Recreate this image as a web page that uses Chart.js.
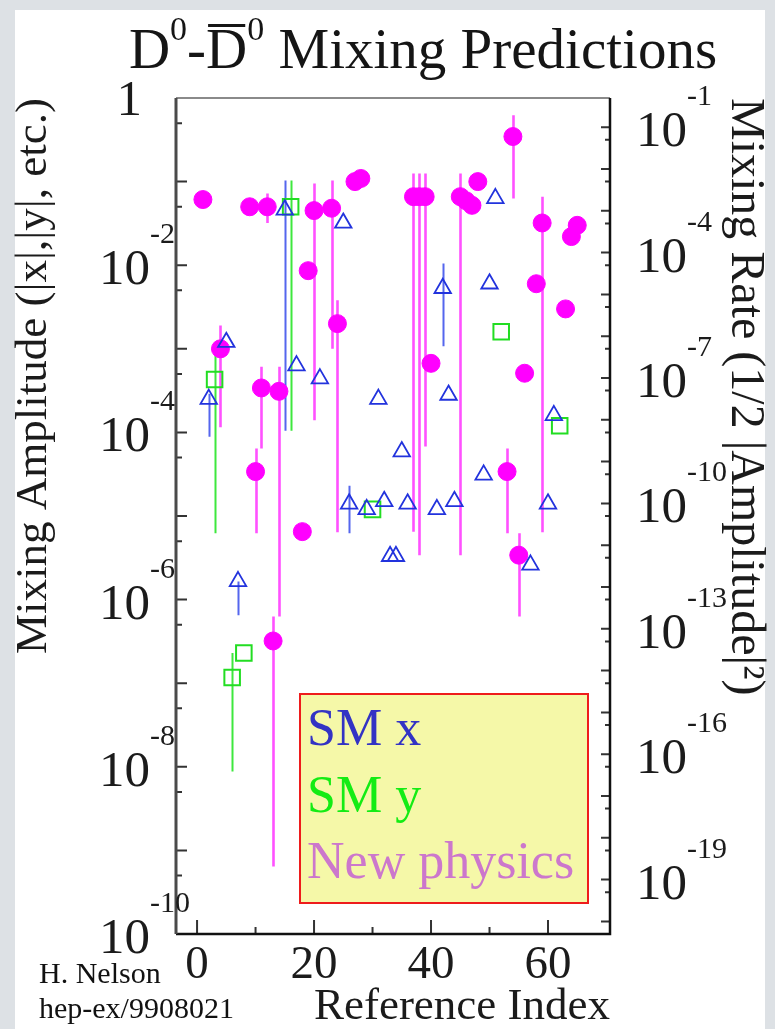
<!DOCTYPE html>
<html>
<head>
<meta charset="utf-8">
<script src="https://cdn.jsdelivr.net/npm/chart.js@4.4.1/dist/chart.umd.min.js"></script>
<style>
  html, body { margin: 0; padding: 0; }
  body { width: 775px; height: 1029px; background: #dde1e5; overflow: hidden; position: relative; }
  #sheet { position: absolute; left: 15px; top: 10px; width: 750px; height: 1019px; background: #fff; }
  #wrap { position: absolute; left: 0; top: 0; width: 775px; height: 1029px; }
</style>
</head>
<body>
<div id="sheet"></div>
<div id="wrap"><canvas id="mixChart" width="775" height="1029"></canvas></div>
<script>
const SERIF = "'Liberation Serif', 'Times New Roman', serif";

// axis ticks / labels
const xTickValues = [0, 20, 40, 60];
const xMinorTicks = [10, 30, 50];
const leftExponents = ['0', '-2', '-4', '-6', '-8', '-10'];
const rightExponents = ['-1', '-4', '-7', '-10', '-13', '-16', '-19'];
const legendLabels = ['SM x', 'SM y', 'New physics'];

// New physics predictions (filled circles)
const npIndex = [1, 4, 9, 10, 11, 12, 13, 14, 18, 19, 20, 23, 24, 27, 28, 37, 38, 39, 40, 45, 46, 47, 48, 53, 54, 55, 56, 58, 59, 63, 64, 65];
const npValue = [6.1e-2, 1.0e-3, 5.0e-2, 3.4e-5, 3.4e-4, 5.0e-2, 3.2e-7, 3.1e-4, 6.5e-6, 8.6e-3, 4.5e-2, 4.8e-2, 2.0e-3, 1.0e-1, 1.09e-1, 6.6e-2, 6.6e-2, 6.6e-2, 6.7e-4, 6.6e-2, 5.9e-2, 5.2e-2, 1.0e-1, 3.4e-5, 3.46e-1, 3.4e-6, 5.1e-4, 6.0e-3, 3.2e-2, 3.0e-3, 2.2e-2, 3.0e-2];
const npLow = [null, 1.15e-4, null, 6.2e-6, 6.4e-5, 3.2e-2, 6.4e-10, 6.3e-7, null, null, 1.4e-4, 1.0e-3, 6.4e-6, null, null, 6.5e-6, 3.4e-6, 6.8e-5, null, 3.4e-6, null, null, null, 6.2e-6, 6.3e-2, 6.3e-7, null, null, 6.4e-6, null, null, null];
const npHigh = [null, 1.9e-3, null, 6.4e-5, 6.1e-4, 7.2e-2, 6.3e-7, 6.1e-4, null, null, 9.5e-2, 1.03e-1, 3.8e-3, null, null, 1.25e-1, 1.25e-1, 1.25e-1, null, 1.25e-1, null, null, null, 6.4e-5, 6.2e-1, 6.2e-6, null, null, 6.6e-2, null, null, null];

// Standard model x (open triangles)
const smxIndex = [2, 5, 7, 15, 17, 21, 25, 26, 29, 31, 32, 33, 34, 35, 36, 41, 42, 43, 44, 49, 50, 51, 57, 60, 61];
const smxValue = [2.5e-4, 1.2e-3, 1.65e-6, 4.6e-2, 6.3e-4, 4.4e-4, 3.2e-2, 1.4e-5, 1.2e-5, 2.5e-4, 1.5e-5, 3.3e-6, 3.3e-6, 5.9e-5, 1.4e-5, 1.2e-5, 5.3e-3, 2.8e-4, 1.5e-5, 3.1e-5, 6.0e-3, 6.3e-2, 2.6e-6, 1.4e-5, 1.6e-4];
const smxLow = [8.9e-5, null, 6.5e-7, 1.05e-4, null, null, null, 6.2e-6, null, null, null, null, null, null, null, null, 1.07e-3, null, null, null, null, null, null, null, null];
const smxHigh = [2.9e-4, null, 1.65e-6, 1.03e-1, null, null, null, 2.3e-5, null, null, null, null, null, null, null, null, 1.05e-2, null, null, null, null, null, null, null, null];

// Standard model y (open squares)
const smyIndex = [3, 6, 8, 16, 30, 52, 62];
const smyValue = [4.3e-4, 1.17e-7, 2.3e-7, 5.0e-2, 1.2e-5, 1.6e-3, 1.2e-4];
const smyLow = [6.2e-6, 8.8e-9, null, 1.05e-4, null, null, null];
const smyHigh = [8.3e-4, 2.3e-7, null, 1.03e-1, null, null, null];

const toPoints = (xs, ys) => xs.map((v, i) => ({ x: v, y: ys[i] }));

function errorBars(ctx, xs, ys, idx, lo, hi, color, width) {
    ctx.strokeStyle = color;
    ctx.lineWidth = width;
    ctx.beginPath();
    idx.forEach((v, i) => {
        if (lo[i] == null) return;
        const px = Math.round(xs.getPixelForValue(v)) + 0.5;
        ctx.moveTo(px, ys.getPixelForValue(hi[i]));
        ctx.lineTo(px, ys.getPixelForValue(lo[i]));
    });
    ctx.stroke();
}

function powerLabel(ctx, tx, ty, exp, side) {
    ctx.fillStyle = '#1b1b1b';
    ctx.textBaseline = 'alphabetic';
    ctx.font = `51px ${SERIF}`;
    const bw = ctx.measureText('10').width;
    const x0 = side === 'left' ? tx - bw : tx;
    ctx.textAlign = 'left';
    ctx.fillText('10', x0, ty + 19);
    ctx.font = `30px ${SERIF}`;
    ctx.fillText(exp, x0 + bw, ty - 22);
}

function drawTitle(ctx) {
    const big = `57px ${SERIF}`, small = `34px ${SERIF}`;
    const parts = [
        { t: 'D', f: big, dy: 0 },
        { t: '0', f: small, dy: -28 },
        { t: '-', f: big, dy: 0 },
        { t: 'D', f: big, dy: 0, bar: true },
        { t: '0', f: small, dy: -28 },
        { t: ' Mixing Predictions', f: big, dy: 0 }
    ];
    let total = 0;
    parts.forEach(p => { ctx.font = p.f; p.w = ctx.measureText(p.t).width; total += p.w; });
    let x = 423 - total / 2;
    const base = 68;
    ctx.fillStyle = '#151515';
    ctx.textAlign = 'left';
    ctx.textBaseline = 'alphabetic';
    parts.forEach(p => {
        ctx.font = p.f;
        ctx.fillText(p.t, x, base + p.dy);
        if (p.bar) ctx.fillRect(x + 2, 24, p.w - 4, 3);
        x += p.w;
    });
}

const paperPlugin = {
    id: 'paper',
    beforeDatasetsDraw(chart) {
        const { ctx, chartArea: a, scales: { x, y } } = chart;
        ctx.save();
        ctx.beginPath();
        ctx.rect(a.left, a.top, a.right - a.left, a.bottom - a.top);
        ctx.clip();
        errorBars(ctx, x, y, npIndex, npLow, npHigh, 'rgba(255,50,255,0.85)', 2.6);
        errorBars(ctx, x, y, smyIndex, smyLow, smyHigh, '#3ee83e', 2);
        errorBars(ctx, x, y, smxIndex, smxLow, smxHigh, '#5566ee', 2);
        ctx.restore();
    },
    afterDatasetsDraw(chart) {
        const { ctx, chartArea: a, scales: { x, y, y2 } } = chart;
        ctx.save();
        // tick marks, all pointing inward
        ctx.strokeStyle = '#333';
        ctx.lineWidth = 2;
        ctx.beginPath();
        for (let e = 0; e >= -10; e--) {
            const py = y.getPixelForValue(10 ** e);
            ctx.moveTo(a.left, py); ctx.lineTo(a.left + 11, py);
            if (e > -10) {
                const pm = y.getPixelForValue(5 * 10 ** (e - 1));
                ctx.moveTo(a.left, pm); ctx.lineTo(a.left + 6, pm);
            }
        }
        for (let n = -1; n >= -20; n--) {
            const py = y2.getPixelForValue(10 ** n);
            ctx.moveTo(a.right, py); ctx.lineTo(a.right - 9, py);
            const pm = y2.getPixelForValue(5 * 10 ** (n - 1));
            ctx.moveTo(a.right, pm); ctx.lineTo(a.right - 5, pm);
        }
        xTickValues.forEach(v => {
            const px = x.getPixelForValue(v);
            ctx.moveTo(px, a.bottom); ctx.lineTo(px, a.bottom - 14);
        });
        xMinorTicks.forEach(v => {
            const px = x.getPixelForValue(v);
            ctx.moveTo(px, a.bottom); ctx.lineTo(px, a.bottom - 7);
        });
        ctx.stroke();

        // frame
        ctx.lineWidth = 2;
        ctx.strokeStyle = '#8a8a8a';
        ctx.beginPath(); ctx.moveTo(a.left, a.top); ctx.lineTo(a.right, a.top); ctx.stroke();
        ctx.strokeStyle = '#111';
        ctx.lineWidth = 2.5;
        ctx.beginPath(); ctx.moveTo(a.right, a.top); ctx.lineTo(a.right, a.bottom); ctx.lineTo(a.left, a.bottom); ctx.stroke();
        ctx.strokeStyle = '#4a4a4a';
        ctx.lineWidth = 3;
        ctx.beginPath(); ctx.moveTo(a.left, a.top); ctx.lineTo(a.left, a.bottom); ctx.stroke();
        ctx.restore();
    },
    afterDraw(chart) {
        const { ctx, scales: { y, y2 } } = chart;
        ctx.save();
        leftExponents.forEach(e => {
            const py = y.getPixelForValue(10 ** Number(e));
            if (e === '0') {
                ctx.font = `51px ${SERIF}`;
                ctx.fillStyle = '#1b1b1b';
                ctx.textAlign = 'right';
                ctx.textBaseline = 'alphabetic';
                ctx.fillText('1', 142, py + 17);
            } else {
                powerLabel(ctx, 150, py, e, 'left');
            }
        });
        rightExponents.forEach(e => {
            powerLabel(ctx, 636, y2.getPixelForValue(10 ** Number(e)), e, 'right');
        });

        drawTitle(ctx);

        // legend box
        ctx.fillStyle = '#f5f8a8';
        ctx.fillRect(300, 694, 288, 209);
        ctx.strokeStyle = '#ee1c1c';
        ctx.lineWidth = 2;
        ctx.strokeRect(300, 694, 288, 209);
        const legendColors = ['#3333c4', '#14ec14', '#cc77cc'];
        const legendBase = [745, 812, 878];
        ctx.font = `52px ${SERIF}`;
        ctx.textAlign = 'left';
        ctx.textBaseline = 'alphabetic';
        legendLabels.forEach((t, i) => {
            ctx.fillStyle = legendColors[i];
            ctx.fillText(t, 307, legendBase[i]);
        });

        // credit
        ctx.fillStyle = '#111';
        ctx.font = `30px ${SERIF}`;
        ctx.fillText('H. Nelson', 39, 983);
        ctx.fillText('hep-ex/9908021', 39, 1018);
        ctx.restore();
    }
};

const ctx = document.getElementById('mixChart').getContext('2d');
new Chart(ctx, {
    type: 'scatter',
    data: {
        datasets: [
            {
                label: legendLabels[0],
                data: toPoints(smxIndex, smxValue),
                pointStyle: 'triangle',
                pointRadius: 9.5,
                backgroundColor: 'rgba(255,255,255,0)',
                borderColor: '#2233dd',
                borderWidth: 1.8
            },
            {
                label: legendLabels[1],
                data: toPoints(smyIndex, smyValue),
                pointStyle: 'rect',
                pointRadius: 11,
                backgroundColor: 'rgba(255,255,255,0)',
                borderColor: '#22dd22',
                borderWidth: 2
            },
            {
                label: legendLabels[2],
                data: toPoints(npIndex, npValue),
                pointStyle: 'circle',
                pointRadius: 9,
                backgroundColor: '#ff00ff',
                borderColor: '#ff00ff',
                borderWidth: 1
            }
        ]
    },
    options: {
        responsive: false,
        devicePixelRatio: 1,
        animation: false,
        layout: { padding: { top: 98, left: 0, right: 0, bottom: 0 } },
        plugins: {
            legend: { display: false },
            tooltip: { enabled: false },
            title: { display: false }
        },
        scales: {
            x: {
                type: 'linear',
                min: -3.6,
                max: 70.6,
                grid: { display: false, drawTicks: false },
                border: { display: false },
                afterBuildTicks: s => { s.ticks = xTickValues.map(v => ({ value: v })); },
                afterFit: s => { s.height = 95; },
                ticks: {
                    autoSkip: false,
                    maxRotation: 0,
                    padding: 3,
                    color: '#1b1b1b',
                    font: { family: SERIF, size: 47 }
                },
                title: {
                    display: true,
                    text: 'Reference Index',
                    align: 'end',
                    color: '#1b1b1b',
                    font: { family: SERIF, size: 45 },
                    padding: { top: 0, bottom: -5 }
                }
            },
            y: {
                type: 'logarithmic',
                position: 'left',
                min: 1e-10,
                max: 1,
                grid: { display: false, drawTicks: false },
                border: { display: false },
                ticks: { display: false },
                afterFit: s => { s.width = 176; },
                title: {
                    display: true,
                    text: 'Mixing Amplitude (|x|,|y|, etc.)',
                    align: 'end',
                    color: '#1b1b1b',
                    font: { family: SERIF, size: 45 },
                    padding: { top: 7, bottom: 0 }
                }
            },
            y2: {
                type: 'logarithmic',
                position: 'right',
                min: 5e-21,
                max: 0.5,
                grid: { display: false, drawTicks: false },
                border: { display: false },
                ticks: { display: false },
                afterFit: s => { s.width = 165; },
                title: {
                    display: true,
                    text: 'Mixing Rate (1/2 |Amplitude|\u00b2)',
                    align: 'end',
                    color: '#1b1b1b',
                    font: { family: SERIF, size: 48 },
                    padding: { top: 2, bottom: 0 }
                }
            }
        }
    },
    plugins: [paperPlugin]
});
</script>
</body>
</html>
